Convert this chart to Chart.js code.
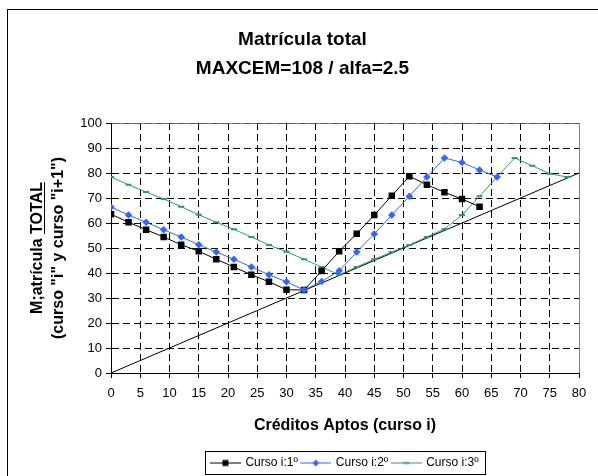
<!DOCTYPE html>
<html>
<head>
<meta charset="utf-8">
<script src="https://cdn.jsdelivr.net/npm/chart.js@4"></script>
<style>
  html, body { margin: 0; padding: 0; background: #fff; }
  #wrap { width: 598px; height: 476px; }
</style>
</head>
<body>
<div id="wrap"><canvas id="chart" width="598" height="476"></canvas></div>
<script>
const FONT = '"Liberation Sans", Arial, sans-serif';

// créditos aptos (eje x)
const creditos = [0, 3, 6, 9, 12, 15, 18, 21, 24, 27, 30, 33, 36, 39, 42, 45, 48, 51, 54, 57, 60, 63, 66, 69, 72, 75, 78];
const curso1 = [63.5, 60.3, 57.3, 54.4, 51.3, 48.7, 45.5, 42.4, 39.3, 36.5, 33.3, 33.2, 40.8, 48.7, 55.7, 63.2, 70.9, 78.7, 75.3, 72.3, 69.6, 66.5];
const curso2 = [66.4, 63.2, 60.3, 57.3, 54.4, 51.3, 48.4, 45.5, 42.4, 39.3, 36.5, 33.2, 36.6, 40.9, 48.4, 55.6, 63.2, 70.7, 78.4, 86.0, 84.2, 81.2, 78.4];
const curso3 = [78.4, 75.3, 72.4, 69.6, 66.5, 63.3, 60.3, 57.5, 54.4, 51.2, 48.5, 45.5, 42.4, 39.3, 42.4, 45.5, 48.4, 51.2, 54.4, 57.6, 63.2, 70.7, 78.4, 86.0, 82.9, 79.7, 78.4];
// recta de referencia y = x
const diagX = [0, 80];
const diagY = [0, 80];

const seriesNames = ['Curso i:1º', 'Curso i:2º', 'Curso i:3º'];
const seriesColors = ['#000000', '#3366ff', '#339966'];
const yTitle = ['M;atrícula TOTAL', '(curso "i" y curso "i+1")'];

const toPoints = (ys, xs) => ys.map((y, i) => ({ x: xs[i], y }));

// little line+marker picture for the legend
function legendSample(color, style) {
    const c = document.createElement('canvas');
    c.width = 31;
    c.height = 9;
    const g = c.getContext('2d');
    g.strokeStyle = color;
    g.fillStyle = color;
    g.lineWidth = 1;
    g.beginPath();
    g.moveTo(0, 4.5);
    g.lineTo(31, 4.5);
    g.stroke();
    if (style === 'rect') {
        g.fillRect(12.5, 1.5, 6, 6);
    } else if (style === 'rectRot') {
        g.beginPath();
        g.moveTo(15.5, 1);
        g.lineTo(19, 4.5);
        g.lineTo(15.5, 8);
        g.lineTo(12, 4.5);
        g.closePath();
        g.fill();
    } else {
        g.lineWidth = 2;
        g.beginPath();
        g.moveTo(12.5, 4.5);
        g.lineTo(18.5, 4.5);
        g.stroke();
    }
    return c;
}

const samples = [
    legendSample(seriesColors[0], 'rect'),
    legendSample(seriesColors[1], 'rectRot'),
    legendSample(seriesColors[2], 'line'),
];

const framePlugin = {
    id: 'frame',
    beforeDraw(chart) {
        const { ctx, chartArea: a } = chart;
        ctx.save();
        ctx.fillStyle = '#fff';
        ctx.fillRect(0, 0, chart.width, chart.height);
        ctx.strokeStyle = '#000';
        ctx.lineWidth = 1;
        ctx.strokeRect(7.5, 9.5, 800, 800);
        ctx.strokeStyle = '#808080';
        ctx.strokeRect(Math.round(a.left) + 0.5, Math.round(a.top) + 0.5,
            Math.round(a.right - a.left), Math.round(a.bottom - a.top));
        ctx.restore();
    },
    afterDraw(chart) {
        const ctx = chart.ctx;
        ctx.save();
        ctx.strokeStyle = '#000';
        ctx.lineWidth = 1;

        // box round the legend
        const hb = chart.legend.legendHitBoxes;
        if (hb && hb.length) {
            const left = Math.min(...hb.map(h => h.left));
            const right = Math.max(...hb.map(h => h.left + h.width));
            const top = hb[0].top;
            ctx.strokeRect(Math.round(left - 6) + 0.5, Math.round(top - 6) + 0.5,
                Math.round(right - left + 13), 23);
        }

        // underline "TOTAL" in the rotated y title
        const ys = chart.scales.y;
        const t = ys.options.title;
        const size = t.font.size;
        ctx.font = 'bold ' + size + 'px ' + FONT;
        const full = ctx.measureText(yTitle[0]).width;
        const head = ctx.measureText('M;atrícula ').width;
        const cx = ys.left + t.padding.top + size * t.font.lineHeight / 2;
        const cy = (ys.top + ys.bottom) / 2;
        const ux = Math.round(cx + size * 0.42) + 0.5;
        ctx.beginPath();
        ctx.moveTo(ux, cy - full / 2);
        ctx.lineTo(ux, cy + full / 2 - head);
        ctx.stroke();
        ctx.restore();
    }
};

new Chart(document.getElementById('chart').getContext('2d'), {
    type: 'line',
    data: {
        datasets: [
            {
                label: seriesNames[0],
                data: toPoints(curso1, creditos),
                borderColor: seriesColors[0],
                backgroundColor: seriesColors[0],
                borderWidth: 1,
                pointStyle: 'rect',
                pointRadius: 4.6,
                pointBorderWidth: 0,
                order: 1,
            },
            {
                label: seriesNames[1],
                data: toPoints(curso2, creditos),
                borderColor: seriesColors[1],
                backgroundColor: seriesColors[1],
                borderWidth: 1,
                pointStyle: 'rectRot',
                pointRadius: 3.8,
                pointBorderWidth: 0,
                order: 0,
            },
            {
                label: seriesNames[2],
                data: toPoints(curso3, creditos),
                borderColor: seriesColors[2],
                backgroundColor: seriesColors[2],
                borderWidth: 1,
                pointStyle: 'line',
                pointRadius: 3,
                pointBorderWidth: 2,
                order: 2,
            },
            {
                label: 'y=x',
                data: toPoints(diagY, diagX),
                borderColor: '#000',
                borderWidth: 1,
                pointRadius: 0,
                order: 3,
            },
        ]
    },
    options: {
        responsive: false,
        animation: false,
        devicePixelRatio: 1,
        layout: { padding: { left: 26, right: 19, top: 0, bottom: -3 } },
        scales: {
            x: {
                type: 'linear',
                min: 0,
                max: 80,
                afterFit: (s) => { s.height = 80; },
                ticks: {
                    stepSize: 5,
                    color: '#000',
                    padding: 8,
                    maxRotation: 0,
                    font: { family: FONT, size: 13 }
                },
                grid: {
                    color: (c) => (c.tick && c.tick.value === 80 ? 'rgba(0,0,0,0)' : '#000'),
                    tickColor: '#000',
                    tickLength: 5,
                },
                border: { display: true, color: '#000', width: 1, dash: [7, 4] },
                title: {
                    display: true,
                    text: 'Créditos Aptos (curso i)',
                    color: '#000',
                    font: { family: FONT, size: 16, weight: 'bold', lineHeight: 1.2 },
                    padding: { top: 0, bottom: 18 }
                }
            },
            y: {
                min: 0,
                max: 100,
                afterFit: (s) => { s.width = 85; },
                ticks: {
                    stepSize: 10,
                    color: '#000',
                    padding: 4,
                    font: { family: FONT, size: 13 }
                },
                grid: {
                    color: (c) => (c.tick && c.tick.value === 100 ? '#555' : '#000'),
                    tickColor: '#000',
                    tickLength: 5,
                },
                border: { display: true, color: '#000', width: 1, dash: [7, 4] },
                title: {
                    display: true,
                    text: yTitle,
                    color: '#000',
                    font: { family: FONT, size: 16, weight: 'bold', lineHeight: 1.35 },
                    padding: { top: 0.5, bottom: 0 }
                }
            }
        },
        plugins: {
            title: {
                display: true,
                text: ['Matrícula total', 'MAXCEM=108 / alfa=2.5'],
                color: '#000',
                font: { family: FONT, size: 19, weight: 'bold', lineHeight: 1.5 },
                padding: { top: 25.75, bottom: 40.25 }
            },
            legend: {
                display: true,
                position: 'bottom',
                fullSize: false,
                labels: {
                    color: '#000',
                    font: { family: FONT, size: 12 },
                    usePointStyle: true,
                    pointStyleWidth: 28,
                    padding: 4,
                    generateLabels: () => seriesNames.map((name, i) => ({
                        text: name,
                        pointStyle: samples[i],
                        fillStyle: seriesColors[i],
                        strokeStyle: seriesColors[i],
                        fontColor: '#000',
                        lineWidth: 0,
                        hidden: false,
                        datasetIndex: i,
                    }))
                }
            },
            tooltip: { enabled: false }
        }
    },
    plugins: [framePlugin]
});
</script>
</body>
</html>
